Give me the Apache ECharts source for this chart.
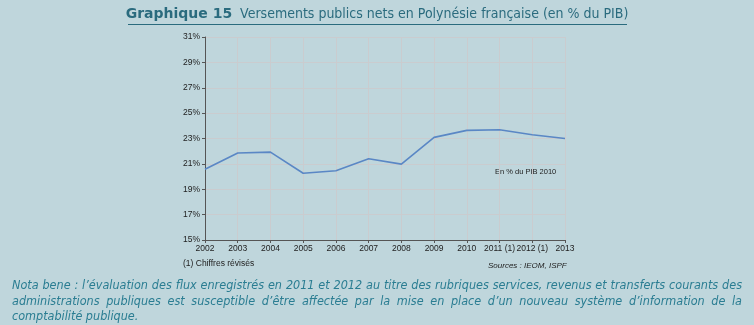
<!DOCTYPE html>
<html>
<head>
<meta charset="utf-8">
<script src="https://cdn.jsdelivr.net/npm/echarts@6/dist/echarts.min.js"></script>
<style>
html,body{margin:0;padding:0;background:#bfd6dc;}
#c{width:754px;height:325px;}
</style>
</head>
<body>
<div id="c"></div>
<script>
const years = ['2002','2003','2004','2005','2006','2007','2008','2009','2010','2011 (1)','2012 (1)','2013'];
const values = [20.57, 21.86, 21.93, 20.26, 20.46, 21.4, 20.98, 23.09, 23.64, 23.69, 23.3, 23.0];
const yTicks = [15,17,19,21,23,25,27,29,31];

const titleBold = 'Graphique 15';
const titleRest = '  Versements publics nets en Polynésie française (en % du PIB)';
const noteLines = [
  "Nota bene : l’évaluation des flux enregistrés en 2011 et 2012 au titre des rubriques services, revenus et transferts courants des",
  "administrations publiques est susceptible d’être affectée par la mise en place d’un nouveau système d’information de la",
  "comptabilité publique."
];

const noteFont = 'italic 12.5px "Liberation Sans Narrow", "DejaVu Sans Condensed", sans-serif';
const cv = document.createElement('canvas').getContext('2d');
cv.font = noteFont;

const graphics = [];
const noteLeft = 12, noteRight = 742, noteY = [287, 303, 318];
noteLines.forEach((line, i) => {
  const words = line.split(' ');
  if (i === noteLines.length - 1) {
    graphics.push({type:'text', x: noteLeft, y: noteY[i]-8, style:{text: line, font: noteFont, fill:'#2a7d92'}});
    return;
  }
  const widths = words.map(w => cv.measureText(w).width);
  const total = widths.reduce((a,b)=>a+b,0);
  const gap = (noteRight - noteLeft - total) / (words.length - 1);
  let x = noteLeft;
  words.forEach((w, k) => {
    graphics.push({type:'text', x: x, y: noteY[i]-8, style:{text: w, font: noteFont, fill:'#2a7d92'}});
    x += widths[k] + gap;
  });
});

graphics.push({
  type:'text', left:'center', top:7,
  style:{
    text:'{b|'+titleBold+'}{n|'+titleRest+'}',
    rich:{
      b:{fontFamily:'"DejaVu Sans"', fontWeight:'bold', fontSize:14, fill:'#2a6b7e'},
      n:{fontFamily:'"DejaVu Sans Condensed","DejaVu Sans"', fontSize:14, fill:'#2a6b7e'}
    }
  }
});
graphics.push({type:'line', shape:{x1:128,y1:24.5,x2:627,y2:24.5}, style:{stroke:'#2a6b7e', lineWidth:1}});
graphics.push({type:'text', x:183, y:259, style:{text:'(1) Chiffres révisés', font:'8.5px "Liberation Sans", sans-serif', fill:'#222'}});
graphics.push({type:'text', x:488, y:262, style:{text:'Sources : IEOM, ISPF', font:'italic 8px "Liberation Sans Narrow", "Liberation Sans", sans-serif', fill:'#222'}});
graphics.push({type:'text', x:495, y:168, style:{text:'En % du PIB 2010', font:'7.5px "Liberation Sans", sans-serif', fill:'#222'}});

const chart = echarts.init(document.getElementById('c'));
chart.setOption({
  backgroundColor:'#bfd6dc',
  animation:false,
  grid:{left:205, right:189, top:37, bottom:85},
  xAxis:{
    type:'category', data:years, boundaryGap:false,
    axisLine:{lineStyle:{color:'#555', width:1}},
    axisTick:{show:true, length:3, lineStyle:{color:'#555'}},
    axisLabel:{color:'#222', fontSize:8.5, fontFamily:'"Liberation Sans", sans-serif', margin:4, interval:0},
    splitLine:{show:true, lineStyle:{color:'#cacccf', width:1}}
  },
  yAxis:{
    type:'value', min:15, max:31, interval:2,
    axisLine:{show:true, lineStyle:{color:'#555', width:1}},
    axisTick:{show:true, length:3, lineStyle:{color:'#555'}},
    axisLabel:{color:'#222', fontSize:8.5, fontFamily:'"Liberation Sans", sans-serif', margin:5,
      formatter:v => yTicks.includes(v) ? v + '%' : ''},
    splitLine:{show:true, lineStyle:{color:'#cacccf', width:1}}
  },
  series:[{
    type:'line', data:values, symbol:'none',
    lineStyle:{color:'#5a87c5', width:1.6}
  }],
  graphic: graphics
});
</script>
</body>
</html>
